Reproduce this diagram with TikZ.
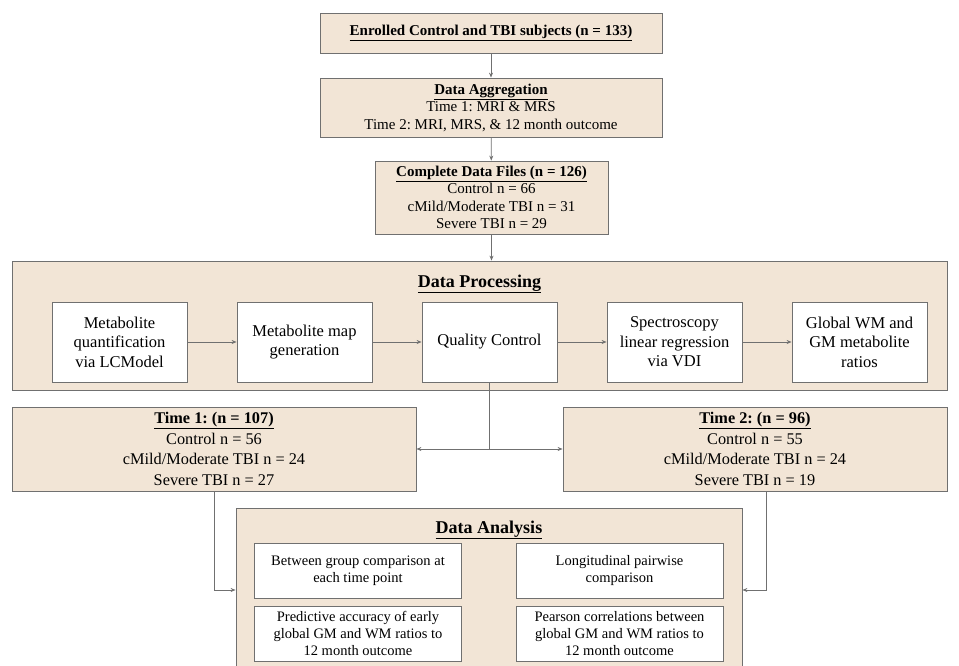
\documentclass[tikz,border=0pt]{standalone}
\usepackage{fontspec}
\setmainfont{Liberation Serif}
\usetikzlibrary{arrows.meta}
\definecolor{boxtan}{RGB}{242,229,214}
\definecolor{edgegray}{RGB}{112,112,112}
\frenchspacing

\begin{document}
\begin{tikzpicture}[x=1pt, y=-1pt,
    tanbox/.style={draw=edgegray, fill=boxtan, line width=0.8pt, inner sep=0pt, align=center, font=\fontsize{15}{17.5}\selectfont},
    timebox/.style={tanbox, font=\fontsize{16.3}{20.5}\selectfont},
    stepbox/.style={draw=edgegray, fill=white, line width=0.8pt, inner sep=0pt, align=center, minimum width=135pt, minimum height=80pt, font=\fontsize{16.5}{19.5}\selectfont},
    taskbox/.style={draw=edgegray, fill=white, line width=0.8pt, inner sep=0pt, align=center, minimum width=207pt, minimum height=55pt, font=\fontsize{14.5}{17}\selectfont},
    heading/.style={font=\fontsize{18}{20}\selectfont\bfseries, inner sep=0pt},
    link/.style={draw=edgegray, line width=0.8pt, -{Stealth[length=5pt, width=4pt]}}]
    \useasboundingbox (0,0) rectangle (959,666);
    \clip (0,0) rectangle (959,666);

    % intake
    \node[tanbox, minimum width=342pt, minimum height=40pt] (enrol) at (491,33) {\underline{\textbf{Enrolled Control and TBI subjects (n = 133)}}};
    \node[tanbox, minimum width=342pt, minimum height=59pt] (aggr) at (491,107.5) {\underline{\textbf{Data Aggregation}}\\Time 1: MRI \& MRS\\Time 2: MRI, MRS, \& 12 month outcome};
    \node[tanbox, minimum width=233pt, minimum height=73pt] (files) at (491.5,197.5) {\underline{\textbf{Complete Data Files (n = 126)}}\\Control n = 66\\cMild/Moderate TBI n = 31\\Severe TBI n = 29};

    % processing
    \node[tanbox, minimum width=935pt, minimum height=129pt] (proc) at (479.5,325.5) {};
    \node[heading] (proctitle) at (479.5,284) {\underline{Data Processing}};
    \node[stepbox] (quant) at (119.5,342) {Metabolite\\quantification\\via LCModel};
    \node[stepbox] (map) at (304.5,342) {Metabolite map\\generation};
    \node[stepbox] (qc) at (489.5,342) {Quality Control};
    \node[stepbox] (vdi) at (674.5,342) {Spectroscopy\\linear regression\\via VDI};
    \node[stepbox] (ratio) at (859.5,342) {Global WM and\\GM metabolite\\ratios};

    % time points
    \node[timebox, minimum width=404pt, minimum height=84pt] (time1) at (214,449) {\underline{\textbf{Time 1: (n = 107)}}\\Control n = 56\\cMild/Moderate TBI n = 24\\Severe TBI n = 27};
    \node[timebox, minimum width=384pt, minimum height=84pt] (time2) at (755,449) {\underline{\textbf{Time 2: (n = 96)}}\\Control n = 55\\cMild/Moderate TBI n = 24\\Severe TBI n = 19};

    % analysis
    \node[tanbox, minimum width=506pt, minimum height=164pt] (anal) at (489,590) {};
    \node[heading] (analtitle) at (489,530) {\underline{Data Analysis}};
    \node[taskbox] (between) at (358,570.5) {Between group comparison at\\each time point};
    \node[taskbox] (predict) at (358,633.5) {Predictive accuracy of early\\global GM and WM ratios to\\12 month outcome};
    \node[taskbox] (longi) at (619.5,570.5) {Longitudinal pairwise\\comparison};
    \node[taskbox] (pearson) at (619.5,633.5) {Pearson correlations between\\global GM and WM ratios to\\12 month outcome};

    \draw[link] (enrol) -- (aggr);
    \draw[link] (aggr) -- (files);
    \draw[link] (files.south) -- (files.south |- proc.north);
    \draw[link] (quant) -- (map);
    \draw[link] (map) -- (qc);
    \draw[link] (qc) -- (vdi);
    \draw[link] (vdi) -- (ratio);
    \draw[draw=edgegray, line width=0.8pt] (qc.south) -- (qc.south |- time1.east) coordinate (split);
    \draw[link] (split) -- (time1.east);
    \draw[link] (split) -- (time2.west);
    \draw[link] (time1.south) |- (anal.west);
    \draw[link] ([xshift=11pt]time2.south) |- (anal.east);
\end{tikzpicture}
\end{document}
